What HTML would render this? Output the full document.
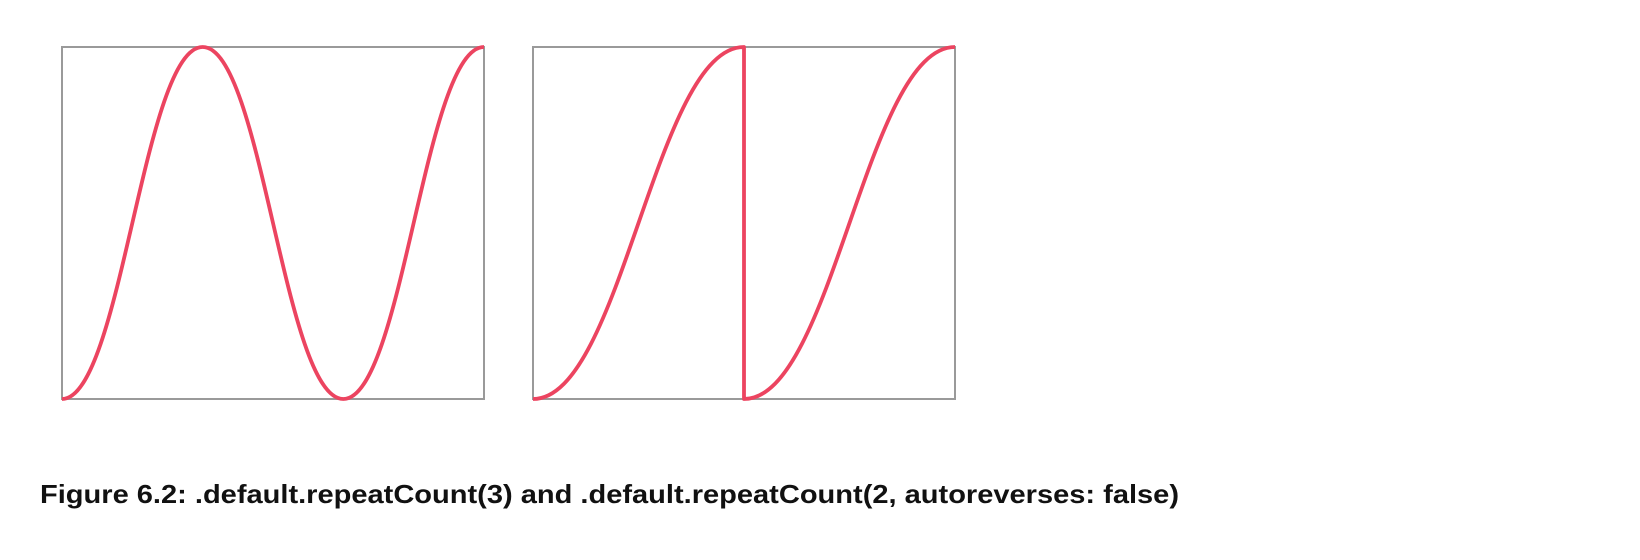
<!DOCTYPE html>
<html><head><meta charset="utf-8"><style>
html,body{margin:0;padding:0;background:#fff;width:1640px;height:560px;overflow:hidden}
</style></head><body>
<svg id="fig" width="1640" height="560" viewBox="0 0 1640 560" xmlns="http://www.w3.org/2000/svg">
<text x="40" y="503" font-family="Liberation Sans, sans-serif" font-weight="bold" font-size="26" textLength="1139" lengthAdjust="spacingAndGlyphs" fill="#111">Figure 6.2: .default.repeatCount(3) and .default.repeatCount(2, autoreverses: false)</text>
</svg>
<script>
// Each chart: sequence of segments, each from value a to value b (0..1) with ease-in-out.
const leftStarts = [0, 1, 0];
const leftEnds = [1, 0, 1];
const rightStarts = [0, 0];
const rightEnds = [1, 1];
const easing = [0.42, 0, 0.58, 1];

const svg = document.getElementById('fig');
const NS = 'http://www.w3.org/2000/svg';
function chart(name, x0, x1, y0, y1, starts, ends) {
  const box = document.createElementNS(NS, 'rect');
  
  
  box.setAttribute('x', x0); box.setAttribute('y', y0);
  box.setAttribute('width', x1 - x0); box.setAttribute('height', y1 - y0);
  box.setAttribute('fill', 'none'); box.setAttribute('stroke', '#9a9a9a'); box.setAttribute('stroke-width', '2');
  svg.appendChild(box);
  const n = starts.length, w = (x1 - x0) / n;
  const sx = i => x0 + i * w;
  const sy = v => y1 - v * (y1 - y0);
  let d = '';
  for (let i = 0; i < n; i++) {
    const xa = sx(i), xb = sx(i + 1), ya = sy(starts[i]), yb = sy(ends[i]);
    d += (i === 0 ? 'M' : 'L') + xa + ' ' + ya;
    d += ' C' + (xa + easing[0] * w) + ' ' + (ya + easing[1] * (yb - ya)) + ' ' +
         (xa + easing[2] * w) + ' ' + (ya + easing[3] * (yb - ya)) + ' ' + xb + ' ' + yb + ' ';
  }
  const p = document.createElementNS(NS, 'path');
  
  
  p.setAttribute('d', d);
  p.setAttribute('fill', 'none'); p.setAttribute('stroke', '#ec4460');
  p.setAttribute('stroke-width', '3.8'); p.setAttribute('stroke-linejoin', 'round');
  svg.appendChild(p);
}
chart('repeat-3-chart', 62, 484, 47, 399, leftStarts, leftEnds);
chart('repeat-2-chart', 533, 955, 47, 399, rightStarts, rightEnds);
</script>
</body></html>
